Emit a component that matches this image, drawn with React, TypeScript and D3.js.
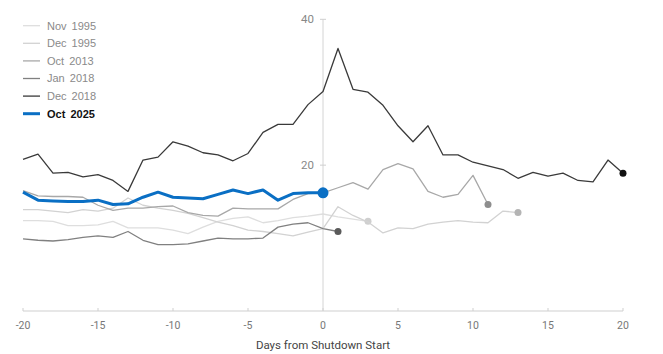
import { useRef, useEffect } from 'react';
import * as d3 from 'd3';

// values by day, each series starts at day -20
const firstDay = -20;

const nov1995 = [12.4, 12.4, 12.3, 11.7, 11.7, 11.8, 12.3, 11.4, 11.4, 11.4, 11.1, 10.6, 11.5, 12.3, 12.7, 12.9, 12.1, 12.4, 12.8, 13.0, 13.3, 12.9, 12.6, 12.3];
const dec1995 = [13.9, 13.9, 13.7, 13.5, 13.9, 13.7, 14.1, 15.5, 14.5, 14.1, 13.8, 13.4, 12.8, 12.2, 11.7, 11.1, 10.9, 10.6, 10.3, 10.8, 11.3, 14.3, 13.1, 12.2, 10.7, 11.4, 11.3, 11.9, 12.2, 12.4, 12.2, 12.1, 13.7, 13.5];
const oct2013 = [16.5, 15.8, 15.7, 15.7, 15.6, 14.5, 13.8, 14.1, 14.1, 14.3, 14.4, 13.5, 13.1, 13.0, 14.1, 14.0, 14.0, 14.0, 15.3, 16.1, 16.2, 16.9, 17.6, 16.7, 19.4, 20.2, 19.5, 16.4, 15.6, 16.0, 18.6, 14.6];
const jan2018 = [9.9, 9.7, 9.6, 9.8, 10.1, 10.3, 10.1, 10.9, 9.7, 9.1, 9.1, 9.2, 9.6, 10.0, 9.9, 9.9, 10.0, 11.5, 11.9, 12.1, 11.3, 10.9];
const dec2018 = [20.8, 21.5, 18.9, 19.0, 18.4, 18.7, 17.9, 16.4, 20.7, 21.1, 23.2, 22.6, 21.7, 21.4, 20.6, 21.6, 24.5, 25.6, 25.6, 28.3, 30.1, 36.0, 30.4, 30.0, 28.2, 25.4, 23.2, 25.4, 21.4, 21.4, 20.4, 19.9, 19.4, 18.2, 19.0, 18.5, 18.9, 17.9, 17.7, 20.7, 18.9];
const oct2025 = [16.3, 15.2, 15.1, 15.0, 15.0, 15.2, 14.6, 14.7, 15.6, 16.3, 15.6, 15.5, 15.4, 16.0, 16.6, 16.1, 16.6, 15.2, 16.1, 16.2, 16.2];

const xTicks = [-20, -15, -10, -5, 0, 5, 10, 15, 20];
const yTicks = [20, 40];

interface Series {
  name: string;
  values: number[];
  color: string;
  dot: string;
  width: number;
  r: number;
}

const series: Series[] = [
  { name: 'Nov 1995', values: nov1995, color: '#dedede', dot: '#cfcfcf', width: 1.3, r: 3.5 },
  { name: 'Dec 1995', values: dec1995, color: '#d2d2d2', dot: '#b4b4b4', width: 1.3, r: 3.5 },
  { name: 'Oct 2013', values: oct2013, color: '#a8a8a8', dot: '#8e8e8e', width: 1.3, r: 3.5 },
  { name: 'Jan 2018', values: jan2018, color: '#808080', dot: '#5a5a5a', width: 1.3, r: 3.5 },
  { name: 'Dec 2018', values: dec2018, color: '#3a3a3a', dot: '#111111', width: 1.3, r: 3.5 },
  { name: 'Oct 2025', values: oct2025, color: '#0a6fc4', dot: '#0a6fc4', width: 3, r: 5.5 },
];

const W = 663;
const H = 354;

const ShutdownChart = () => {
  const svgRef = useRef<SVGSVGElement>(null);

  useEffect(() => {
    const svg = d3.select(svgRef.current)
      .attr('width', W)
      .attr('height', H);

    svg.selectAll('*').remove();

    const x = d3.scaleLinear().domain([-20, 20]).range([23, 623]);
    const y = d3.scaleLinear().domain([0, 40]).range([311, 19.3]);

    const font = 'Liberation Sans, Arial, sans-serif';

    // bottom axis
    const xAxis = svg.append('g').attr('transform', `translate(0, ${y(0)})`);
    xAxis.append('line')
      .attr('x1', x(-20)).attr('x2', x(20))
      .attr('stroke', '#cfcfcf').attr('stroke-width', 1);
    xAxis.selectAll('line.tick')
      .data(xTicks)
      .enter()
      .append('line')
      .attr('class', 'tick')
      .attr('x1', d => x(d)).attr('x2', d => x(d))
      .attr('y1', -3).attr('y2', 0)
      .attr('stroke', '#cfcfcf');
    xAxis.selectAll('text')
      .data(xTicks)
      .enter()
      .append('text')
      .attr('x', d => x(d))
      .attr('y', 18)
      .attr('text-anchor', 'middle')
      .attr('font-family', 'Roboto, sans-serif')
      .attr('font-size', 10.5)
      .attr('fill', '#777')
      .text(d => d);

    svg.append('text')
      .attr('x', x(0))
      .attr('y', 349)
      .attr('text-anchor', 'middle')
      .attr('font-family', 'Roboto, sans-serif')
      .attr('font-size', 11.5)
      .attr('fill', '#444')
      .text('Days from Shutdown Start');

    // vertical axis at day 0
    const yAxis = svg.append('g').attr('transform', `translate(${x(0)}, 0)`);
    yAxis.append('line')
      .attr('y1', y(40)).attr('y2', y(0))
      .attr('stroke', '#d4d4d4');
    yAxis.selectAll('line.tick')
      .data(yTicks)
      .enter()
      .append('line')
      .attr('class', 'tick')
      .attr('x1', -3).attr('x2', 3)
      .attr('y1', d => y(d)).attr('y2', d => y(d))
      .attr('stroke', '#cfcfcf');
    yAxis.selectAll('text')
      .data(yTicks)
      .enter()
      .append('text')
      .attr('x', -9)
      .attr('y', d => y(d))
      .attr('dy', '0.35em')
      .attr('text-anchor', 'end')
      .attr('font-family', 'Roboto, sans-serif')
      .attr('font-size', 11.5)
      .attr('fill', '#888')
      .text(d => d);

    const line = d3.line<number>()
      .x((_, i) => x(firstDay + i))
      .y(d => y(d));

    const plot = svg.append('g');
    series.forEach(s => {
      plot.append('path')
        .datum(s.values)
        .attr('fill', 'none')
        .attr('stroke', s.color)
        .attr('stroke-width', s.width)
        .attr('stroke-linejoin', 'round')
        .attr('d', line);
      const last = s.values.length - 1;
      plot.append('circle')
        .attr('cx', x(firstDay + last))
        .attr('cy', y(s.values[last]))
        .attr('r', s.r)
        .attr('fill', s.dot);
    });

    // legend
    const legend = svg.append('g');
    const rows = legend.selectAll('g')
      .data(series)
      .enter()
      .append('g')
      .attr('transform', (_, i) => `translate(23, ${25.7 + i * 17.6})`);
    rows.append('line')
      .attr('x1', 0).attr('x2', 17)
      .attr('stroke', d => d.color)
      .attr('stroke-width', d => d.width);
    rows.append('text')
      .attr('x', 24)
      .attr('dy', '0.35em')
      .attr('font-family', font)
      .attr('font-size', 11)
      .attr('word-spacing', 2)
      .attr('font-weight', d => (d.name === 'Oct 2025' ? 'bold' : 'normal'))
      .attr('fill', d => (d.name === 'Oct 2025' ? '#111' : '#8a8a8a'))
      .text(d => d.name);
  }, []);

  return <svg ref={svgRef} style={{ position: 'absolute', left: 0, top: 0 }}></svg>;
};

export default function App() {
  return <ShutdownChart />;
}
